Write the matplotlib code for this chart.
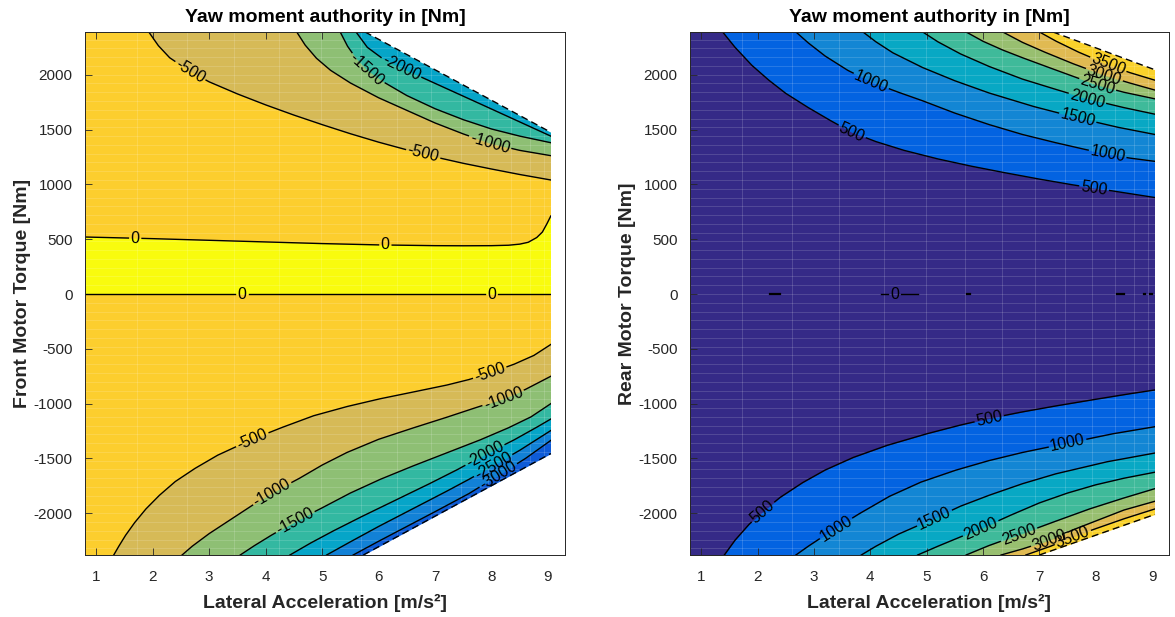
import numpy as np
import matplotlib
matplotlib.use("Agg")
import matplotlib.pyplot as plt
from matplotlib.colors import LinearSegmentedColormap, Normalize
from matplotlib.textpath import TextPath
from matplotlib.font_manager import FontProperties

plt.rcParams['font.family'] = ['Liberation Sans', 'DejaVu Sans']
plt.rcParams['axes.unicode_minus'] = False

# ---- data ----------------------------------------------------------------
ay_lo, ay_hi = 0.8, 9.05          # range of lateral acceleration with data

# front motor (left): contour lines as (ay, torque) points
front_up_levels = [0, -500, -1000, -1500, -2000]
front_up_ay = [
    [0.8, 2, 3, 4, 5, 6, 7, 7.5, 8, 8.3, 8.5, 8.65, 8.8, 8.9, 8.98, 9.05],
    [1.93, 2.1, 2.3, 2.66, 3.0, 3.5, 4.0, 4.5, 5.0, 5.5, 6.0, 6.5, 7.0, 7.5, 8.0, 8.5, 9.05],
    [4.55, 4.7, 4.9, 5.15, 5.5, 6.0, 6.5, 7.0, 7.5, 7.97, 8.5, 9.05],
    [5.32, 5.45, 5.6, 5.79, 6.1, 6.5, 7.0, 7.5, 8.0, 8.5, 9.05],
    [5.6, 5.8, 6.05, 6.4, 6.8, 7.3, 7.8, 8.4, 9.05],
]
front_up_tq = [
    [520, 505, 490, 475, 460, 448, 441, 440, 441, 445, 455, 472, 515, 565, 640, 712],
    [2390, 2265, 2155, 2030, 1935, 1825, 1725, 1632, 1545, 1462, 1385, 1315, 1250, 1192, 1140, 1090, 1040],
    [2390, 2270, 2150, 2040, 1925, 1790, 1675, 1560, 1460, 1375, 1310, 1262],
    [2390, 2260, 2150, 2045, 1930, 1810, 1690, 1590, 1505, 1440, 1380],
    [2390, 2250, 2155, 2061, 1968, 1851, 1734, 1593, 1440],
]
front_up_lbl = [[1.69, 6.12], [2.66, 6.79], [7.97], [5.79], [6.40]]

front_lo_levels = [0, -500, -1000, -1500, -2000, -2500, -3000]
front_lo_ay = [
    [0.8, 9.05],
    [1.31, 1.4, 1.52, 1.68, 1.88, 2.12, 2.4, 2.75, 3.15, 3.76, 4.3, 4.85, 5.45, 6.03, 6.6, 7.21, 7.6, 7.97, 8.4, 8.75, 9.05],
    [2.52, 2.7, 3.0, 3.4, 3.8, 4.11, 4.6, 5.0, 5.44, 6.0, 6.62, 7.2, 7.7, 8.21, 8.6, 9.05],
    [3.55, 3.8, 4.1, 4.52, 5.0, 5.5, 6.03, 6.6, 7.2, 7.8, 8.3, 8.7, 9.05],
    [4.43, 4.8, 5.2, 5.7, 6.3, 6.9, 7.4, 7.88, 8.4, 8.8, 9.05],
    [5.08, 5.5, 6.0, 6.6, 7.2, 7.6, 8.03, 8.5, 9.05],
    [5.55, 6.0, 6.5, 7.0, 7.6, 8.12, 8.6, 9.05],
]
front_lo_tq = [
    [0, 0],
    [-2380, -2300, -2200, -2085, -1960, -1835, -1710, -1590, -1470, -1325, -1215, -1110, -1025, -955, -895, -830, -780, -720, -640, -560, -460],
    [-2380, -2300, -2185, -2050, -1915, -1815, -1680, -1560, -1445, -1325, -1220, -1125, -1040, -955, -870, -750],
    [-2380, -2295, -2200, -2076, -1950, -1815, -1690, -1570, -1450, -1330, -1220, -1120, -1000],
    [-2380, -2270, -2160, -2030, -1880, -1730, -1600, -1465, -1330, -1215, -1140],
    [-2380, -2260, -2120, -1960, -1800, -1690, -1565, -1425, -1245],
    [-2380, -2255, -2120, -1985, -1820, -1655, -1500, -1335],
]
front_lo_lbl = [[3.58, 8.0], [3.76, 7.97], [4.11, 8.21], [4.52], [7.88], [8.03], [8.12]]

# feasible torque limit (white beyond)
front_lim_ay_up, front_lim_tq_up = [5.76, 9.05], [2390, 1475]
front_lim_ay_lo, front_lim_tq_lo = [5.73, 9.05], [-2380, -1455]

# rear motor (right)
rear_levels = [500, 1000, 1500, 2000, 2500, 3000, 3500]
rear_up_ay = [
    [1.38, 1.6, 1.9, 2.2, 2.5, 2.9, 3.3, 3.67, 4.1, 4.6, 5.2, 5.8, 6.4, 7.0, 7.6, 8.3, 9.05],
    [2.68, 2.9, 3.2, 3.6, 4.01, 4.5, 4.93, 5.5, 6.11, 6.7, 7.29, 7.8, 8.21, 8.6, 9.05],
    [3.87, 4.1, 4.4, 4.93, 5.5, 6.11, 6.9, 7.68, 8.4, 9.05],
    [4.93, 5.2, 5.6, 6.11, 6.7, 7.3, 7.85, 8.5, 9.05],
    [5.7, 6.0, 6.35, 6.7, 7.2, 7.6, 8.03, 8.5, 9.05],
    [6.35, 6.7, 7.1, 7.6, 8.15, 8.6, 9.05],
    [7.0, 7.3, 7.7, 8.22, 8.6, 9.05],
]
rear_up_tq = [
    [2390, 2250, 2085, 1950, 1830, 1700, 1580, 1475, 1390, 1310, 1232, 1165, 1105, 1048, 995, 940, 880],
    [2390, 2290, 2170, 2040, 1935, 1840, 1762, 1650, 1545, 1455, 1380, 1320, 1275, 1240, 1210],
    [2390, 2300, 2200, 2065, 1945, 1833, 1710, 1606, 1520, 1455],
    [2390, 2300, 2190, 2075, 1960, 1865, 1780, 1700, 1640],
    [2390, 2305, 2225, 2155, 2060, 1985, 1905, 1840, 1780],
    [2390, 2295, 2205, 2100, 1995, 1925, 1860],
    [2390, 2305, 2205, 2091, 2020, 1950],
]
rear_up_lbl = [[3.67, 7.97], [4.01, 8.21], [7.68], [7.85], [8.03], [8.15], [8.22]]

rear_lo_ay = [
    [1.41, 1.6, 1.85, 2.09, 2.4, 2.8, 3.2, 3.7, 4.3, 5.0, 5.6, 6.11, 6.7, 7.3, 8.0, 8.6, 9.05],
    [2.68, 2.9, 3.15, 3.39, 3.8, 4.34, 4.9, 5.52, 6.1, 6.7, 7.5, 8.3, 9.05],
    [3.84, 4.1, 4.5, 5.14, 5.6, 6.11, 6.7, 7.29, 8.2, 9.05],
    [4.84, 5.2, 5.6, 5.96, 6.5, 7.0, 7.5, 8.0, 8.5, 9.05],
    [5.7, 6.1, 6.64, 7.3, 7.89, 8.5, 9.05],
    [6.32, 6.7, 7.18, 7.6, 8.0, 8.5, 9.05],
    [6.76, 7.2, 7.59, 8.0, 8.5, 9.05],
]
rear_lo_tq = [
    [-2380, -2245, -2100, -1985, -1855, -1720, -1605, -1490, -1380, -1275, -1195, -1135, -1075, -1020, -960, -910, -875],
    [-2380, -2300, -2215, -2136, -2005, -1845, -1715, -1606, -1520, -1445, -1360, -1275, -1210],
    [-2380, -2300, -2190, -2045, -1935, -1835, -1730, -1640, -1530, -1450],
    [-2380, -2300, -2215, -2140, -2015, -1905, -1815, -1740, -1680, -1625],
    [-2380, -2295, -2195, -2070, -1960, -1860, -1775],
    [-2380, -2325, -2245, -2150, -2070, -1970, -1890],
    [-2380, -2300, -2215, -2140, -2050, -1960],
]
rear_lo_lbl = [[2.09, 6.11], [3.39, 7.50], [5.14], [5.96], [6.64], [7.18], [7.59]]

# little zero-level fragments along torque = 0
rear_zero_ay0 = [2.22, 4.19, 5.72, 8.38, 8.85, 8.97]
rear_zero_ay1 = [2.40, 4.84, 5.77, 8.50, 8.88, 9.00]
rear_zero_lbl = 4.43

rear_lim_ay_up, rear_lim_tq_up = [7.24, 9.05], [2390, 2045]
rear_lim_ay_lo, rear_lim_tq_lo = [7.0, 9.05], [-2380, -2010]

# ---- colours (MATLAB parula) --------------------------------------------
parula = LinearSegmentedColormap.from_list('parula', [
    (0.2081, 0.1663, 0.5292), (0.1959, 0.2645, 0.7279), (0.0117, 0.3875, 0.8820),
    (0.0498, 0.4586, 0.8641), (0.0793, 0.5200, 0.8312), (0.0265, 0.6137, 0.8135),
    (0.0228, 0.6535, 0.7768), (0.1133, 0.7015, 0.6859), (0.2178, 0.7250, 0.6193),
    (0.3953, 0.7459, 0.5244), (0.5709, 0.7485, 0.4494), (0.7184, 0.7411, 0.3905),
    (0.8507, 0.7299, 0.3360), (0.9739, 0.7314, 0.2666), (0.9880, 0.8066, 0.1794),
    (0.9626, 0.8705, 0.1309), (0.9763, 0.9831, 0.0538)])

fig = plt.figure(figsize=(11.75, 6.17), dpi=100)
YLIM = (-2380, 2390)
FS = 11.5
fprop = FontProperties(family='Liberation Sans', size=FS)


def draw_contour(ax, xs, ts, lbl_x, txt):
    xs = np.asarray(xs, float)
    ts = np.asarray(ts, float)
    disp = ax.transData.transform(np.column_stack([xs, ts]))
    s = np.concatenate([[0.0], np.cumsum(np.hypot(np.diff(disp[:, 0]), np.diff(disp[:, 1])))])
    half = TextPath((0, 0), txt, prop=fprop).get_extents().width * fig.dpi / 72 / 2 + 3
    gaps = []
    for xl in lbl_x:
        sl = np.interp(xl, xs, s)
        a, b = sl - half, sl + half
        dx = np.interp(b, s, disp[:, 0]) - np.interp(a, s, disp[:, 0])
        dy = np.interp(b, s, disp[:, 1]) - np.interp(a, s, disp[:, 1])
        ang = np.degrees(np.arctan2(dy, dx))
        ax.text(np.interp(sl, s, xs), np.interp(sl, s, ts), txt, rotation=ang,
                rotation_mode='anchor', ha='center', va='center', fontsize=FS, zorder=4)
        gaps += [a, b]
    edges = [s[0]] + gaps + [s[-1]]
    for lo, hi in zip(edges[0::2], edges[1::2]):
        if hi <= lo:
            continue
        ss = np.concatenate([[lo], s[(s > lo) & (s < hi)], [hi]])
        ax.plot(np.interp(ss, s, xs), np.interp(ss, s, ts), color='k', lw=1.0, zorder=2)


def setup(rect, ylabel):
    ax = fig.add_axes(rect)
    ax.set_xlim(0.8, 9.3)
    ax.set_ylim(*YLIM)
    ax.set_xticks(range(1, 10))
    ax.set_yticks(range(-2000, 2001, 500))
    ax.tick_params(direction='in', top=True, right=True, length=5, width=0.6,
                   color='0.15', labelcolor='0.15', labelsize=11)
    ax.tick_params(axis='x', pad=10.5)
    ax.tick_params(axis='y', pad=9)
    for sp in ax.spines.values():
        sp.set_color('0.15')
        sp.set_linewidth(0.7)
    ax.set_title('Yaw moment authority in [Nm]', fontsize=14, fontweight='bold', pad=7)
    ax.set_xlabel('Lateral Acceleration [m/s²]', fontsize=14, fontweight='bold',
                  color='0.15', labelpad=7.5)
    ax.set_ylabel(ylabel, fontsize=14, fontweight='bold', color='0.15', labelpad=2)
    return ax


def mesh(ax):
    # faint white surface mesh seen over the filled contours
    ax.hlines(np.arange(-2400, 2401, 80), ay_lo, ay_hi, colors='white', lw=0.5, alpha=0.2, zorder=1.5)
    xv = ay_hi - (ay_hi - ay_lo) * np.linspace(0, 1, 15) ** 1.6
    ax.vlines(xv, YLIM[0], YLIM[1], colors='white', lw=0.5, alpha=0.22, zorder=1.5)


def limits(ax, ay_up, tq_up, ay_lo_, tq_lo):
    ax.fill_between(ay_up, tq_up, 2500, color='white', zorder=2.2, lw=0)
    ax.fill_between(ay_lo_, -2500, tq_lo, color='white', zorder=2.2, lw=0)
    ax.fill_between([ay_hi, 9.4], -2500, 2500, color='white', zorder=2.2, lw=0)
    ax.plot(ay_up, tq_up, color='k', lw=1.0, dashes=(5, 3), zorder=2.3)
    ax.plot(ay_lo_, tq_lo, color='k', lw=1.0, dashes=(5, 3), zorder=2.3)


# ---- left: front motor ---------------------------------------------------
axl = setup([0.0723, 0.1005, 0.4085, 0.8477], 'Front Motor Torque [Nm]')
nl = Normalize(-3937.5, 0)
axl.fill_between([ay_lo, ay_hi], -2500, 2500, color=parula(nl(-500)), lw=0, zorder=0.5)
axl.fill_between(front_up_ay[0], 0, front_up_tq[0], color=parula(nl(0)), lw=0, zorder=0.6)
for lev, xs, ts in zip(front_up_levels[1:], front_up_ay[1:], front_up_tq[1:]):
    axl.fill_between(xs, ts, 2500, color=parula(nl(lev - 500)), lw=0, zorder=0.7)
for lev, xs, ts in zip(front_lo_levels[1:], front_lo_ay[1:], front_lo_tq[1:]):
    axl.fill_between(xs, -2500, ts, color=parula(nl(lev - 500)), lw=0, zorder=0.7)
mesh(axl)
for lev, xs, ts, lb in zip(front_up_levels, front_up_ay, front_up_tq, front_up_lbl):
    draw_contour(axl, xs, ts, lb, str(lev))
for lev, xs, ts, lb in zip(front_lo_levels, front_lo_ay, front_lo_tq, front_lo_lbl):
    draw_contour(axl, xs, ts, lb, str(lev))
limits(axl, front_lim_ay_up, front_lim_tq_up, front_lim_ay_lo, front_lim_tq_lo)

# ---- right: rear motor ---------------------------------------------------
axr = setup([0.5872, 0.1005, 0.4077, 0.8477], 'Rear Motor Torque [Nm]')
nr = Normalize(0, 3937.5)
axr.fill_between([ay_lo, ay_hi], -2500, 2500, color=parula(nr(0)), lw=0, zorder=0.5)
for lev, xs, ts in zip(rear_levels, rear_up_ay, rear_up_tq):
    axr.fill_between(xs, ts, 2500, color=parula(nr(lev)), lw=0, zorder=0.7)
for lev, xs, ts in zip(rear_levels, rear_lo_ay, rear_lo_tq):
    axr.fill_between(xs, -2500, ts, color=parula(nr(lev)), lw=0, zorder=0.7)
mesh(axr)
for lev, xs, ts, lb in zip(rear_levels, rear_up_ay, rear_up_tq, rear_up_lbl):
    draw_contour(axr, xs, ts, lb, str(lev))
for lev, xs, ts, lb in zip(rear_levels, rear_lo_ay, rear_lo_tq, rear_lo_lbl):
    draw_contour(axr, xs, ts, lb, str(lev))
for x0, x1 in zip(rear_zero_ay0, rear_zero_ay1):
    if x0 < rear_zero_lbl < x1:
        draw_contour(axr, [x0, x1], [0, 0], [rear_zero_lbl], '0')
    else:
        axr.plot([x0, x1], [0, 0], color='k', lw=1.6, zorder=2)
limits(axr, rear_lim_ay_up, rear_lim_tq_up, rear_lim_ay_lo, rear_lim_tq_lo)

fig.savefig('out.png', dpi=100)
